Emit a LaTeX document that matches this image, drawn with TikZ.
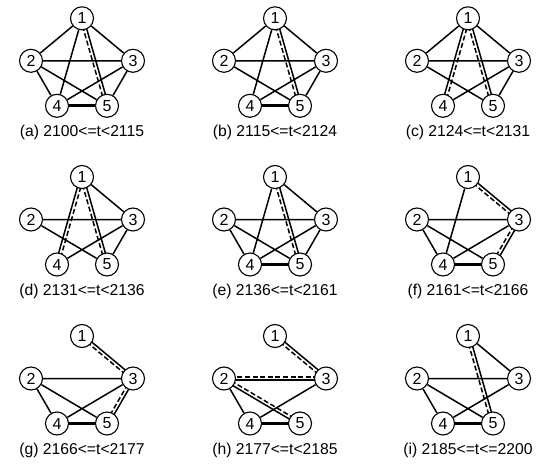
\documentclass[tikz,border=0pt]{standalone}
\usepackage{fontspec}
\setmainfont{Liberation Sans}
\usetikzlibrary{calc,backgrounds}
\tikzset{
 vtx/.style={circle,draw,line width=1.1pt,fill=white,minimum size=23pt,inner sep=0pt,font=\fontsize{16}{18}\selectfont},
 edge/.style={line width=1.5pt},
 hedge/.style={line width=2.9pt},
 dedge/.style={line width=1.5pt,dash pattern=on 5pt off 2.6pt},
 captxt/.style={font=\fontsize{15.7}{18}\selectfont,inner sep=0pt}
}
\newcommand{\off}{1.6pt}
\newcommand{\pair}[2]{%
 \draw[edge] ($(#1)!\off!90:(#2)$) -- ($(#2)!\off!-90:(#1)$);
 \draw[dedge] ($(#1)!\off!-90:(#2)$) -- ($(#2)!\off!90:(#1)$);}
\newcommand{\mkpanel}[4]{%
 \node[vtx] (#11) at (#2,#3) {1};
 \node[vtx] (#12) at ({#2-51},{#3+42.5}) {2};
 \node[vtx] (#13) at ({#2+51},{#3+42.5}) {3};
 \node[vtx] (#14) at ({#2-25},{#3+87.5}) {4};
 \node[vtx] (#15) at ({#2+25},{#3+87.5}) {5};
 \node[captxt] (#1L) at (#2,{#3+114}) {#4};}
\begin{document}
\begin{tikzpicture}[x=1pt,y=-1pt]
\useasboundingbox (0,0) rectangle (543,465);
\mkpanel{a}{82}{18.3}{(a) 2100<=t<2115}
\mkpanel{b}{275}{18.3}{(b) 2115<=t<2124}
\mkpanel{c}{468}{18.3}{(c) 2124<=t<2131}
\mkpanel{d}{82}{177}{(d) 2131<=t<2136}
\mkpanel{e}{275}{177}{(e) 2136<=t<2161}
\mkpanel{f}{468}{177}{(f) 2161<=t<2166}
\mkpanel{g}{82}{336}{(g) 2166<=t<2177}
\mkpanel{h}{275}{336}{(h) 2177<=t<2185}
\mkpanel{i}{468}{336}{(i) 2185<=t<=2200}
\begin{pgfonlayer}{background}
% (a)
\draw[edge] (a1)--(a2) (a1)--(a3) (a1)--(a4) (a2)--(a3) (a2)--(a4) (a2)--(a5) (a3)--(a4) (a3)--(a5);
\draw[hedge] (a4)--(a5);
\pair{a1}{a5}
% (b)
\draw[edge] (b1)--(b2) (b1)--(b3) (b1)--(b4) (b2)--(b3) (b2)--(b5) (b3)--(b4) (b3)--(b5);
\draw[hedge] (b4)--(b5);
\pair{b1}{b5}
% (c)
\draw[edge] (c1)--(c2) (c1)--(c3) (c2)--(c3) (c2)--(c5) (c3)--(c4) (c3)--(c5);
\pair{c4}{c1}
\pair{c1}{c5}
% (d)
\draw[edge] (d1)--(d3) (d2)--(d3) (d2)--(d5) (d3)--(d4) (d3)--(d5);
\pair{d4}{d1}
\pair{d1}{d5}
% (e)
\draw[edge] (e1)--(e3) (e1)--(e4) (e2)--(e3) (e2)--(e4) (e2)--(e5) (e3)--(e4) (e3)--(e5);
\draw[hedge] (e4)--(e5);
\pair{e1}{e5}
% (f)
\draw[edge] (f1)--(f4) (f2)--(f3) (f2)--(f4) (f2)--(f5) (f3)--(f4);
\draw[hedge] (f4)--(f5);
\pair{f1}{f3}
\pair{f3}{f5}
% (g)
\draw[edge] (g2)--(g3) (g2)--(g4) (g2)--(g5) (g3)--(g4);
\draw[hedge] (g4)--(g5);
\pair{g1}{g3}
\pair{g3}{g5}
% (h)
\draw[edge] (h2)--(h4) (h3)--(h4);
\draw[hedge] (h4)--(h5);
\pair{h1}{h3}
\pair{h3}{h2}
\pair{h5}{h2}
% (i)
\draw[edge] (i1)--(i3) (i2)--(i3) (i2)--(i4) (i2)--(i5) (i3)--(i4);
\draw[hedge] (i4)--(i5);
\pair{i1}{i5}
\end{pgfonlayer}
\end{tikzpicture}
\end{document}
